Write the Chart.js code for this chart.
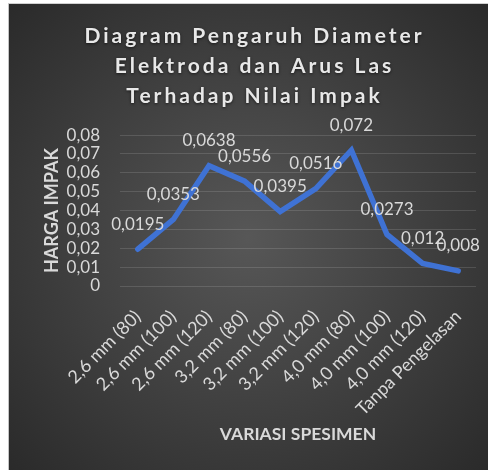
<!DOCTYPE html>
<html>
<head>
<meta charset="utf-8">
<script src="https://cdn.jsdelivr.net/npm/chart.js@4.4.0/dist/chart.umd.min.js"></script>
<style>
  body { margin: 0; background: #fff; }
  #frame { position: absolute; left: 8px; top: 3px; width: 480px; height: 467px; border-left: 1px solid #c4c4c4; border-top: 1px solid #d0d0d0; box-sizing: border-box; }
  #wrap { position: absolute; left: 9px; top: 4px; width: 479px; height: 466px; }
</style>
</head>
<body>
<div id="frame"></div>
<div id="wrap"><canvas id="chart"></canvas></div>
<script>
const categories = ['2,6 mm (80)', '2,6 mm (100)', '2,6 mm (120)', '3,2 mm (80)', '3,2 mm (100)',
  '3,2 mm (120)', '4,0 mm (80)', '4,0 mm (100)', '4,0 mm (120)', 'Tanpa Pengelasan'];
const impactValues = [0.0195, 0.0353, 0.0638, 0.0556, 0.0395, 0.0516, 0.072, 0.0273, 0.012, 0.008];
const titleLines = ['Diagram Pengaruh Diameter', 'Elektroda dan Arus Las', 'Terhadap Nilai Impak'];
const yAxisTitle = 'HARGA IMPAK';
const xAxisTitle = 'VARIASI SPESIMEN';

const textColor = '#d9d9d9';

function formatNum(v) {
  return String(v).replace('.', ',');
}

// dark radial background like the Excel style
const background = {
  id: 'background',
  beforeDraw(chart) {
    const {ctx, width, height} = chart;
    const g = ctx.createRadialGradient(width * 0.5, height * 0.5, 0, width * 0.5, height * 0.5, width * 0.7);
    g.addColorStop(0, '#575757');
    g.addColorStop(1, '#2a2a2a');
    ctx.save();
    ctx.fillStyle = g;
    ctx.fillRect(0, 0, width, height);
    ctx.restore();
  }
};

// spaced out title with a soft shadow
const spacedTitle = {
  id: 'spacedTitle',
  afterInit(chart) {
    const block = chart.titleBlock;
    const draw = block.draw;
    block.draw = function () {
      const ctx = chart.ctx;
      ctx.save();
      ctx.translate(12, 0);
      ctx.letterSpacing = '3px';
      ctx.shadowColor = 'rgba(0,0,0,0.6)';
      ctx.shadowBlur = 3;
      ctx.shadowOffsetY = 1;
      draw.apply(this, arguments);
      ctx.restore();
    };
  }
};

const pointLabels = {
  id: 'pointLabels',
  afterDatasetsDraw(chart) {
    const ctx = chart.ctx;
    const meta = chart.getDatasetMeta(0);
    ctx.save();
    ctx.font = '17px Lato';
    ctx.fillStyle = textColor;
    ctx.textAlign = 'center';
    ctx.textBaseline = 'middle';
    meta.data.forEach((pt, i) => {
      ctx.fillText(formatNum(impactValues[i]), pt.x, pt.y - 25);
    });
    ctx.restore();
  }
};

new Chart(document.getElementById('chart'), {
  type: 'line',
  data: {
    labels: categories,
    datasets: [{
      data: impactValues,
      borderColor: '#3F72D4',
      borderWidth: 5.5,
      pointRadius: 0,
      tension: 0,
      borderJoinStyle: 'miter',
      borderCapStyle: 'round'
    }]
  },
  options: {
    responsive: true,
    maintainAspectRatio: false,
    animation: false,
    layout: { padding: { left: 0, right: 12, top: 0, bottom: 0 } },
    plugins: {
      legend: { display: false },
      tooltip: { enabled: false },
      title: {
        display: true,
        text: titleLines,
        color: '#e8e8e8',
        font: { family: 'Lato', size: 21, weight: 'bold', lineHeight: 1.43 },
        padding: { top: 17, bottom: 24 }
      }
    },
    scales: {
      x: {
        offset: true,
        grid: { display: false },
        border: { display: false },
        ticks: {
          autoSkip: false,
          minRotation: 45,
          maxRotation: 45,
          padding: 12,
          color: textColor,
          font: { family: 'Lato', size: 18 }
        },
        title: {
          display: true,
          text: xAxisTitle,
          color: textColor,
          font: { family: 'Lato', size: 17.5, weight: 'bold' },
          padding: { top: 0, bottom: 25 }
        },
        afterFit(scale) { scale.height = 184; }
      },
      y: {
        min: 0,
        max: 0.08,
        grid: { color: 'rgba(255,255,255,0.13)', drawTicks: false },
        border: { display: false },
        ticks: {
          autoSkip: false,
          stepSize: 0.01,
          padding: 20,
          color: textColor,
          font: { family: 'Lato', size: 17 },
          callback: v => v === 0 ? '0' : v.toFixed(2).replace('.', ',')
        },
        title: {
          display: true,
          text: yAxisTitle,
          color: textColor,
          font: { family: 'Lato', size: 18, weight: 'bold' },
          padding: { top: 32, bottom: 0 }
        },
        afterFit(scale) { scale.width = 111; }
      }
    }
  },
  plugins: [background, spacedTitle, pointLabels]
});
</script>
</body>
</html>
